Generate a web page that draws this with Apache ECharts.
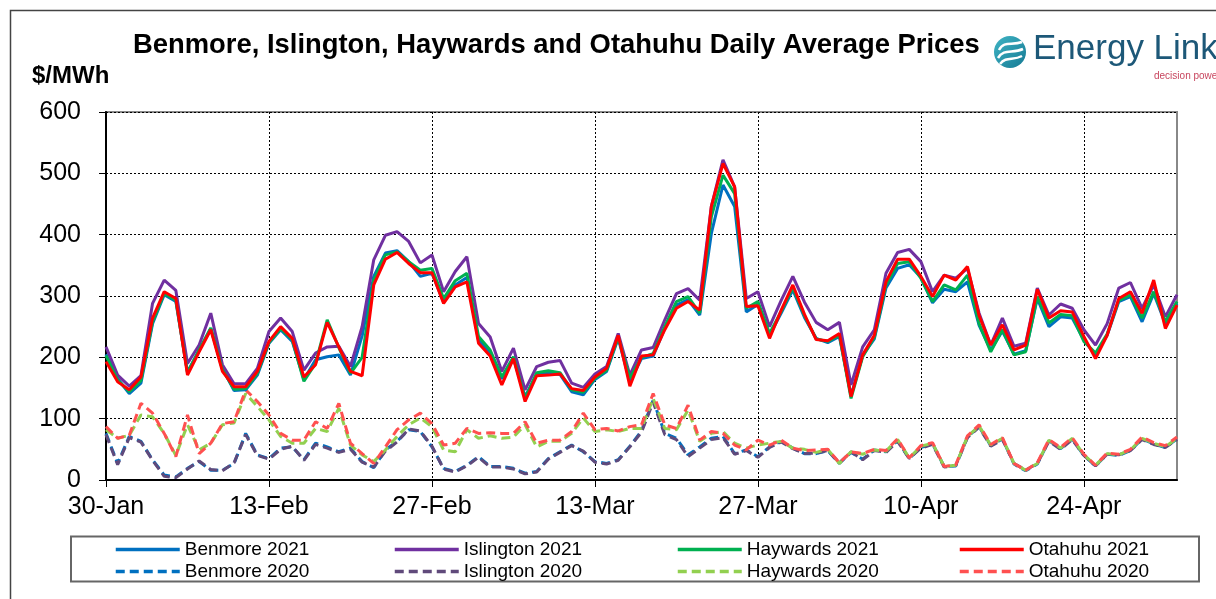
<!DOCTYPE html>
<html>
<head>
<meta charset="utf-8">
<title>Daily Average Prices</title>
<script src="https://cdn.jsdelivr.net/npm/echarts@6/dist/echarts.min.js"></script>
<style>
  html, body { margin: 0; padding: 0; background: #fff; }
  #main { width: 1216px; height: 599px; }
</style>
</head>
<body>
<div id="main"></div>
<script>
// daily categories, 30-Jan to 2-May
var months = ['Jan','Feb','Mar','Apr','May','Jun','Jul','Aug','Sep','Oct','Nov','Dec'];
var days = [];
for (var i = 0; i < 93; i++) {
    var d = new Date(2021, 0, 30 + i);
    days.push(d.getDate() + '-' + months[d.getMonth()]);
}

// 2021 prices ($/MWh)
var benmore2021 = [205,165,141,158,255,302,291,176,211,247,182,146,147,171,223,245,226,164,196,201,
    204,171,235,332,370,374,356,332,337,290,318,330,228,208,165,198,136,172,174,172,
    144,139,164,177,231,160,198,202,247,285,294,269,402,481,446,274,286,236,272,310,
    265,231,224,234,138,203,230,313,345,351,330,289,311,307,323,252,212,243,205,211,
    296,250,266,264,228,204,236,291,299,258,304,255,288];
var islington2021 = [217,171,153,170,288,326,309,190,220,272,188,157,157,182,242,264,242,179,207,217,
    218,185,250,359,399,405,389,354,367,307,340,364,255,233,177,215,147,185,192,195,
    158,151,173,185,239,171,212,216,261,304,312,293,446,522,478,296,307,250,293,332,
    290,257,245,257,155,217,245,337,371,376,356,307,334,329,345,272,220,264,218,223,
    313,269,287,280,245,220,255,313,322,280,318,266,302];
var haywards2021 = [203,163,144,162,258,304,293,175,212,248,180,148,149,174,224,247,229,161,190,261,
    216,174,200,326,367,372,356,342,345,296,325,337,234,212,168,201,133,175,178,175,
    147,143,166,179,233,166,200,206,250,291,299,272,429,497,467,280,291,239,275,314,
    268,230,226,236,133,201,233,318,353,356,329,291,318,310,334,255,209,245,204,209,
    299,256,270,268,226,207,238,293,302,264,307,258,291];
var otahuhu2021 = [193,160,147,168,264,307,296,171,209,245,177,152,152,177,226,250,231,168,188,257,
    217,177,170,318,360,371,353,338,338,288,315,323,223,202,155,198,128,170,171,173,
    149,146,168,182,236,153,202,204,245,280,291,277,446,516,478,283,284,231,277,318,
    270,229,227,239,136,204,236,323,360,360,332,299,334,326,348,268,220,253,212,220,
    311,264,276,274,234,198,236,296,307,272,326,247,285];

// 2020 prices ($/MWh)
var benmore2020 = [76,27,71,63,33,8,5,19,30,16,16,27,76,41,35,52,54,33,60,54,
    46,52,30,20,49,63,82,79,54,19,14,24,38,22,22,19,11,14,35,46,
    57,46,30,27,33,55,80,130,76,68,41,54,68,71,43,49,38,54,63,52,
    43,43,48,27,45,34,49,46,64,35,53,59,22,23,70,87,56,67,26,15,
    26,64,51,67,40,23,42,40,48,67,59,53,67];
var islington2020 = [74,25,69,62,32,6,4,18,31,17,15,28,74,40,34,50,55,32,58,52,
    45,50,29,21,47,62,83,80,55,18,13,23,37,21,21,18,10,13,34,45,
    56,47,29,26,32,54,78,127,74,66,38,52,66,69,42,48,37,53,62,51,
    43,44,48,28,46,33,48,45,63,35,52,58,21,24,69,86,55,66,27,16,
    27,63,50,66,40,23,42,41,48,66,58,53,66];
var haywards2020 = [82,68,73,106,103,76,40,90,49,60,90,93,141,120,98,71,60,60,84,79,
    117,57,41,30,49,71,90,101,87,49,46,82,68,72,68,70,90,54,63,63,
    76,101,79,82,79,84,84,133,84,82,114,63,76,79,60,52,57,60,63,52,
    50,45,50,27,46,42,49,47,66,36,55,60,22,24,71,88,57,68,27,16,
    27,65,52,68,41,24,43,41,49,68,60,54,68];
var otahuhu2020 = [87,68,73,125,109,76,38,106,43,60,92,95,147,128,106,76,65,65,95,84,
    125,60,43,27,54,82,98,109,92,57,60,84,76,77,76,76,95,60,65,65,
    79,109,82,84,80,87,90,141,90,84,122,65,79,76,57,49,65,57,65,52,
    48,49,50,28,46,43,50,48,67,36,56,61,22,25,72,90,58,69,27,16,
    28,66,53,69,42,24,44,42,50,70,61,56,70];

var FONT = 'Liberation Sans, Arial, sans-serif';

function mkLine(name, data, color, dashed) {
    return {
        name: name,
        type: 'line',
        data: data,
        symbol: 'none',
        showSymbol: false,
        smooth: false,
        lineStyle: { color: color, width: 3, type: dashed ? [9, 5] : 'solid' },
        itemStyle: { color: color }
    };
}

function mkLegend(left, names) {
    return {
        left: left,
        top: 535,
        orient: 'vertical',
        itemWidth: 64,
        itemHeight: 12,
        itemGap: 3,
        selectedMode: false,
        data: names,
        itemStyle: { opacity: 0 },
        lineStyle: { width: 3.5 },
        textStyle: { fontFamily: FONT, fontSize: 19, color: '#000' }
    };
}

var myChart = echarts.init(document.getElementById('main'));

var option = {
    animation: false,
    backgroundColor: '#fff',
    title: {
        text: 'Benmore, Islington, Haywards and Otahuhu Daily Average Prices',
        left: 133,
        top: 32,
        padding: 0,
        textStyle: { fontFamily: FONT, fontSize: 27.4, fontWeight: 'bold', color: '#000' }
    },
    legend: [
        mkLegend(109, ['Benmore 2021', 'Benmore 2020']),
        mkLegend(388, ['Islington 2021', 'Islington 2020']),
        mkLegend(671, ['Haywards 2021', 'Haywards 2020']),
        mkLegend(953, ['Otahuhu 2021', 'Otahuhu 2020'])
    ],
    grid: {
        left: 106, top: 112, right: 39, bottom: 119,
        show: true, borderColor: '#888', borderWidth: 2
    },
    xAxis: {
        type: 'category',
        data: days,
        boundaryGap: false,
        axisLine: { lineStyle: { color: '#000', width: 2 } },
        axisTick: { interval: 13, length: 7, lineStyle: { color: '#000', width: 1 } },
        axisLabel: { interval: 13, margin: 15, fontFamily: FONT, fontSize: 25, color: '#000' },
        splitLine: { show: true, interval: 13, lineStyle: { color: '#000', width: 1, type: [2, 2] } }
    },
    yAxis: {
        type: 'value',
        min: 0, max: 600, interval: 100,
        axisLine: { show: true, lineStyle: { color: '#000', width: 2 } },
        axisTick: { show: true, length: 7, lineStyle: { color: '#000', width: 1 } },
        axisLabel: { margin: 25, fontFamily: FONT, fontSize: 25, color: '#000' },
        splitLine: { show: true, lineStyle: { color: '#000', width: 1, type: [2, 2] } }
    },
    graphic: [
        { type: 'rect', shape: { x: 10.5, y: 10.5, width: 1230, height: 620 },
          style: { fill: 'none', stroke: '#444', lineWidth: 1.5 }, silent: true },
        { type: 'rect', shape: { x: 71, y: 536.5, width: 1128, height: 45 },
          style: { fill: 'none', stroke: '#666', lineWidth: 2 }, silent: true, z: -1 },
        { type: 'text', left: 32, top: 64,
          style: { text: '$/MWh', font: 'bold 24px ' + FONT, fill: '#000' } },
        // logo
        { type: 'circle', shape: { cx: 1010, cy: 52, r: 16 },
          style: { fill: new echarts.graphic.LinearGradient(0, 0, 1, 1, [
              { offset: 0, color: '#3fb4c4' }, { offset: 1, color: '#167a94' }]) } },
        { type: 'bezierCurve', shape: { x1: 999, y1: 50, cpx1: 1004, cpy1: 40, x2: 1022, y2: 42, cpx2: 1012, cpy2: 46 },
          style: { stroke: '#fff', lineWidth: 2.5, fill: 'none' } },
        { type: 'bezierCurve', shape: { x1: 998, y1: 58, cpx1: 1004, cpy1: 48, x2: 1023, y2: 49, cpx2: 1012, cpy2: 54 },
          style: { stroke: '#fff', lineWidth: 2.5, fill: 'none' } },
        { type: 'bezierCurve', shape: { x1: 1000, y1: 64, cpx1: 1006, cpy1: 56, x2: 1022, y2: 56, cpx2: 1013, cpy2: 61 },
          style: { stroke: '#fff', lineWidth: 2.5, fill: 'none' } },
        { type: 'text', left: 1033, top: 32,
          style: { text: 'Energy Link', font: '35px ' + FONT, fill: '#1d5878' } },
        { type: 'text', left: 1154, top: 71,
          style: { text: 'decision power', font: '10px ' + FONT, fill: '#c8455e' } }
    ],
    series: [
        mkLine('Benmore 2020', benmore2020, '#0070C0', true),
        mkLine('Islington 2020', islington2020, '#604A7B', true),
        mkLine('Haywards 2020', haywards2020, '#92D050', true),
        mkLine('Otahuhu 2020', otahuhu2020, '#FF5050', true),
        mkLine('Benmore 2021', benmore2021, '#0070C0', false),
        mkLine('Islington 2021', islington2021, '#7030A0', false),
        mkLine('Haywards 2021', haywards2021, '#00B050', false),
        mkLine('Otahuhu 2021', otahuhu2021, '#FF0000', false)
    ]
};

myChart.setOption(option);
</script>
</body>
</html>
